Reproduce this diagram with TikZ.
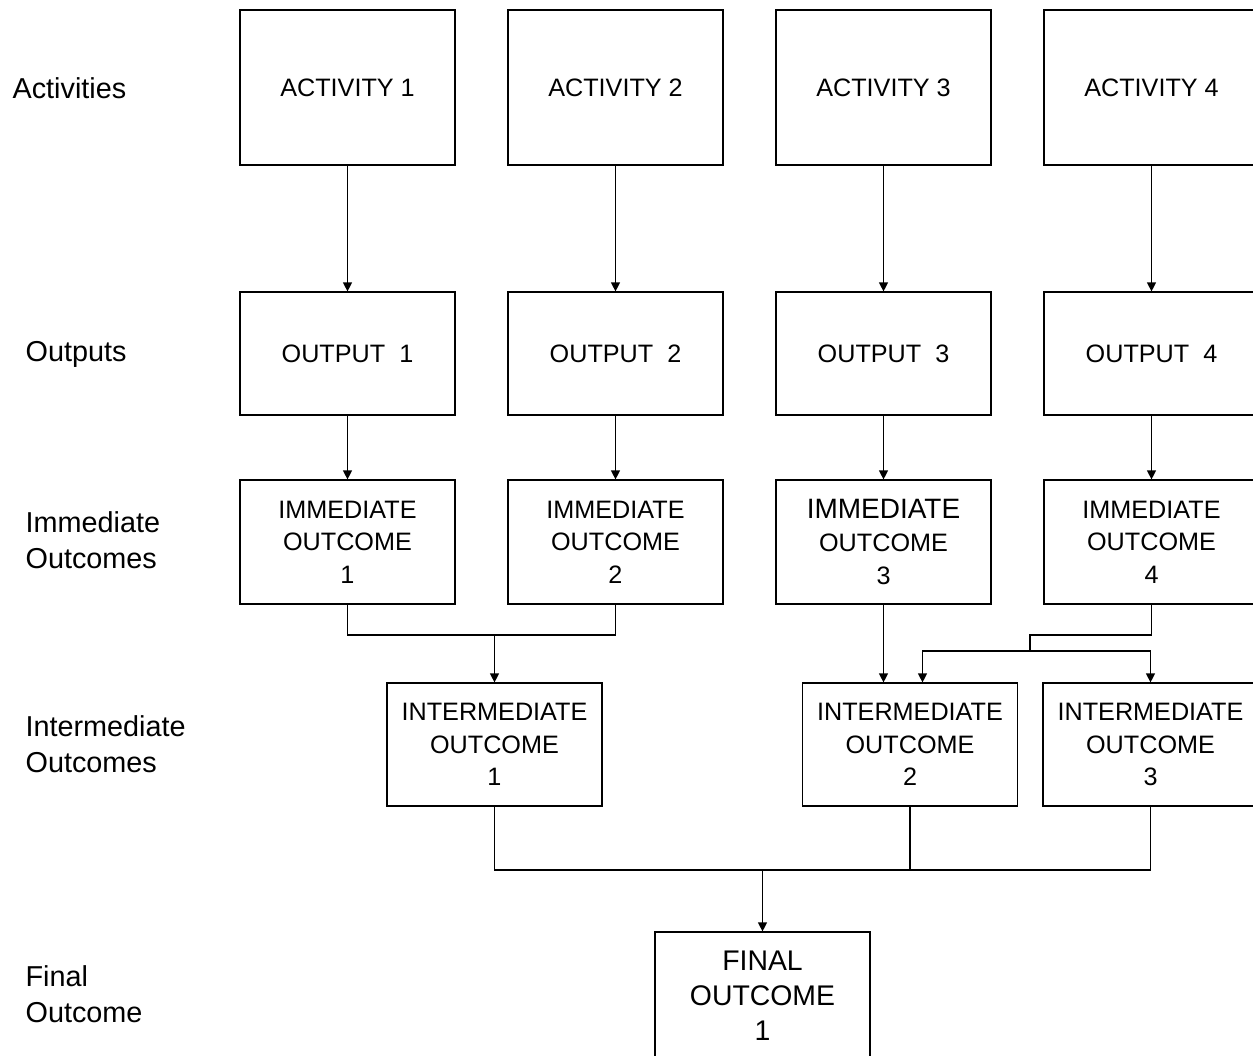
\documentclass[tikz,border=0pt]{standalone}
\usepackage{fontspec}
\setmainfont{Liberation Sans}
\usetikzlibrary{arrows.meta}

\begin{document}
\begin{tikzpicture}[x=0.5pt,y=-0.5pt,->,>={Triangle[length=4.5pt,width=4.5pt]},
                    line width=0.6pt,node distance=134pt]
\tikzstyle{box}=[draw=black,inner sep=0pt,align=center,minimum width=107.5pt,
                 font=\fontsize{12.6}{16.3}\selectfont]
\tikzstyle{rowlabel}=[anchor=west,inner sep=0pt,align=left,
                      font=\fontsize{14.4}{18}\selectfont]

\useasboundingbox (0,0) rectangle (1253,1055);
\clip (0,0) rectangle (1253,1055);

        % row labels
        \node[rowlabel]        (lact) at (12,88)  {Activities};
        \node[rowlabel]        (lout) at (25,354) {Outputs};
        \node[rowlabel]        (limm) at (25,540) {Immediate\\Outcomes};
        \node[rowlabel]        (lint) at (25,744) {Intermediate\\Outcomes};
        \node[rowlabel]        (lfin) at (25,994) {Final\\Outcome};

        % activities
        \node[box,minimum height=77.5pt]        (act1) at (347.5,87.5) {ACTIVITY 1};
        \node[box,minimum height=77.5pt]        (act2) [right of=act1] {ACTIVITY 2};
        \node[box,minimum height=77.5pt]        (act3) [right of=act2] {ACTIVITY 3};
        \node[box,minimum height=77.5pt]        (act4) [right of=act3] {ACTIVITY 4};

        % outputs
        \node[box,minimum height=61.5pt,node distance=133pt]        (out1) [below of=act1] {OUTPUT\ \ 1};
        \node[box,minimum height=61.5pt,node distance=133pt]        (out2) [below of=act2] {OUTPUT\ \ 2};
        \node[box,minimum height=61.5pt,node distance=133pt]        (out3) [below of=act3] {OUTPUT\ \ 3};
        \node[box,minimum height=61.5pt,node distance=133pt]        (out4) [below of=act4] {OUTPUT\ \ 4};

        % immediate outcomes
        \node[box,minimum height=62pt,node distance=94.25pt]        (imm1) [below of=out1] {IMMEDIATE\\OUTCOME\\1};
        \node[box,minimum height=62pt,node distance=94.25pt]        (imm2) [below of=out2] {IMMEDIATE\\OUTCOME\\2};
        \node[box,minimum height=62pt,node distance=94.25pt]        (imm3) [below of=out3] {{\fontsize{14}{17}\selectfont IMMEDIATE}\\OUTCOME\\3};
        \node[box,minimum height=62pt,node distance=94.25pt]        (imm4) [below of=out4] {IMMEDIATE\\OUTCOME\\4};

        % intermediate outcomes
        \node[box,minimum height=61.5pt]        (int1) at (494.5,744.5) {INTERMEDIATE\\OUTCOME\\1};
        \node[box,minimum height=61.5pt]        (int2) at (910,744.5)   {INTERMEDIATE\\OUTCOME\\2};
        \node[box,minimum height=61.5pt]        (int3) at (1150.5,744.5) {INTERMEDIATE\\OUTCOME\\3};

        % final outcome (runs off the bottom)
        \node[box,minimum height=64pt,font=\fontsize{14.2}{17.6}\selectfont]        (fin) at (762.5,996) {FINAL\\OUTCOME\\1};

        % joints
        \coordinate (j1) at (494.5,635);
        \coordinate (j2) at (1030,635);
        \coordinate (j3) at (1030,651);
        \coordinate (t2) at (922.5,651);
        \coordinate (j4) at (762.5,870);

        \path[->]
        (act1) edge (out1)
        (act2) edge (out2)
        (act3) edge (out3)
        (act4) edge (out4)
        (out1) edge (imm1)
        (out2) edge (imm2)
        (out3) edge (imm3)
        (out4) edge (imm4)
        ; %end path

        \draw[-] (imm1.south) |- (j1) -| (imm2.south);
        \draw (j1) -- (j1 |- int1.north);
        \draw (imm3.south) -- (imm3.south |- int2.north);
        \draw[-] (imm4.south) |- (j2) -- (j3);
        \draw (j3) -| (t2 |- int2.north);
        \draw (j3) -| (int3.north);
        \draw[-] (int1.south) |- (int3.south |- j4) -- (int3.south);
        \draw[-] (int2.south) -- (int2.south |- j4);
        \draw (j4) -- (fin.north);

\end{tikzpicture}
\end{document}
